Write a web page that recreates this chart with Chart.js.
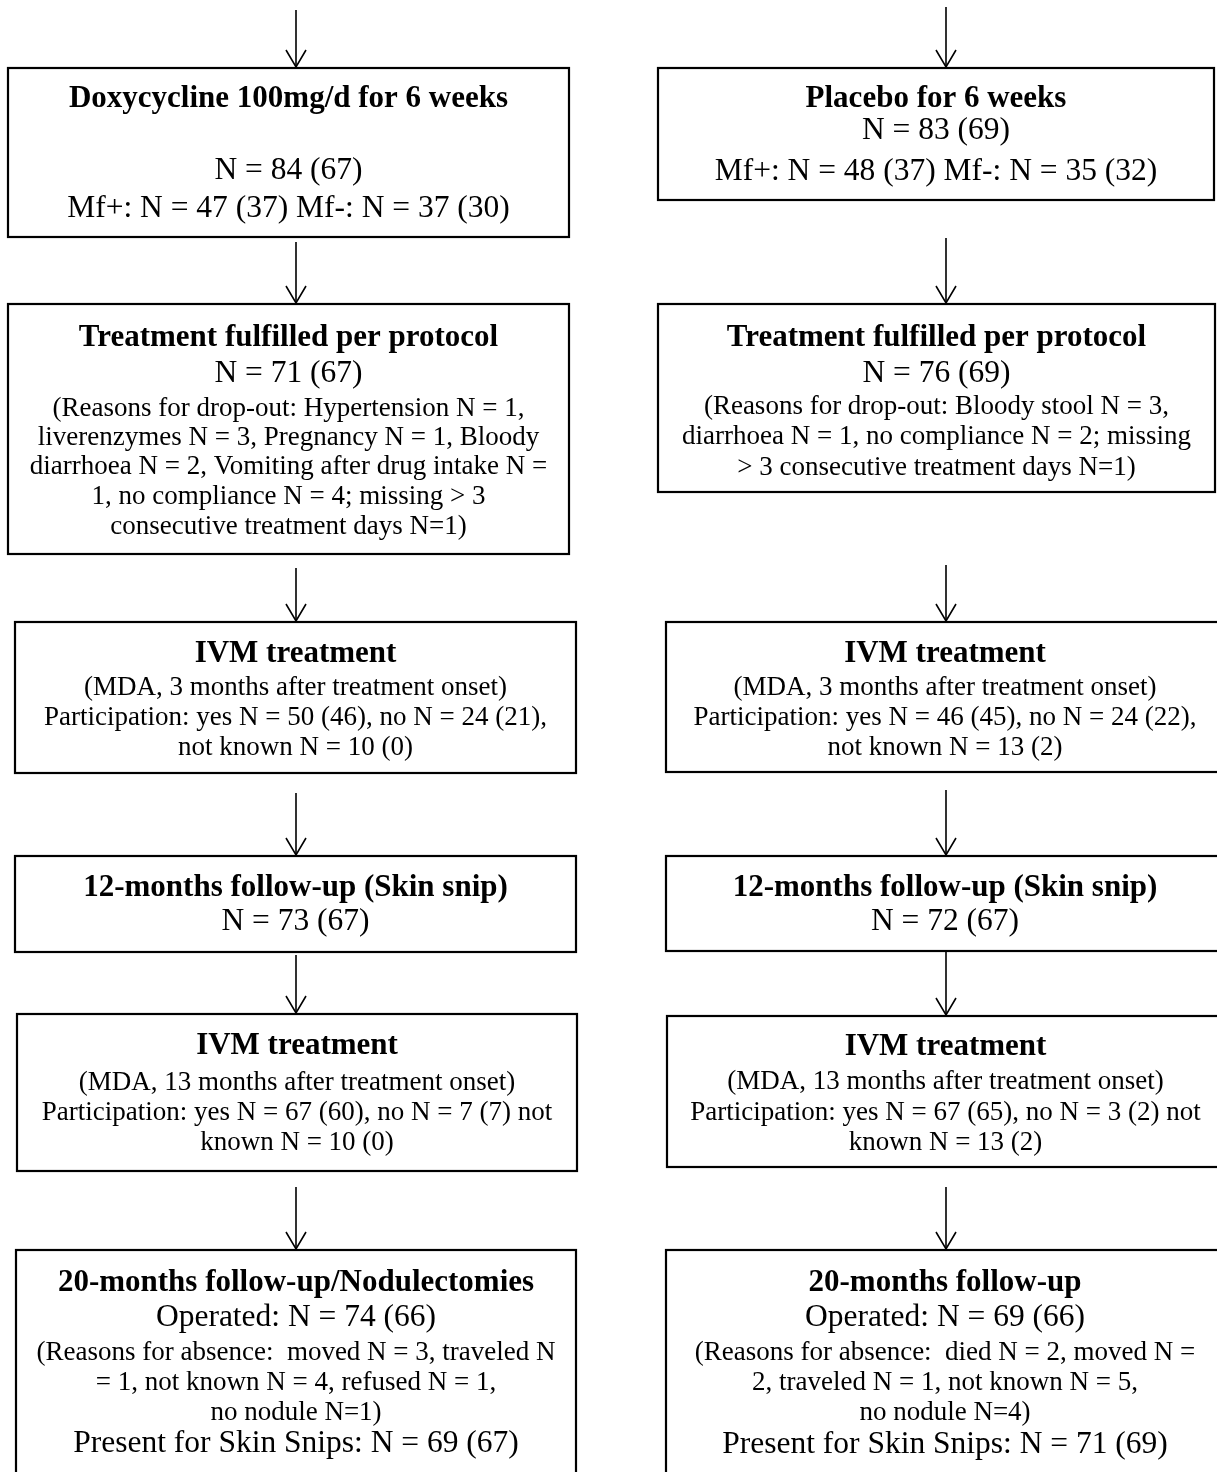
<!DOCTYPE html>
<html>
<head>
<meta charset="utf-8">
<script src="https://cdn.jsdelivr.net/npm/chart.js@4.4.1/dist/chart.umd.min.js"></script>
<style>
  html, body { margin: 0; padding: 0; background: #fff; }
  #wrap { width: 1217px; height: 1472px; }
</style>
</head>
<body>
<div id="wrap"><canvas id="flow" width="1217" height="1472"></canvas></div>
<script>
// 2つの群（ドキシサイクリン / プラセボ）
const arms = ['Doxycycline', 'Placebo'];

// 各ボックスの文言（上から順に）
const doxyText = [
  ['Doxycycline 100mg/d for 6 weeks', 'N = 84 (67)', 'Mf+: N = 47 (37) Mf-: N = 37 (30)'],
  ['Treatment fulfilled per protocol', 'N = 71 (67)',
   '(Reasons for drop-out: Hypertension N = 1,',
   'liverenzymes N = 3, Pregnancy N = 1, Bloody',
   'diarrhoea N = 2, Vomiting after drug intake N =',
   '1, no compliance N = 4; missing > 3',
   'consecutive treatment days N=1)'],
  ['IVM treatment', '(MDA, 3 months after treatment onset)',
   'Participation: yes N = 50 (46), no N = 24 (21),',
   'not known N = 10 (0)'],
  ['12-months follow-up (Skin snip)', 'N = 73 (67)'],
  ['IVM treatment', '(MDA, 13 months after treatment onset)',
   'Participation: yes N = 67 (60), no N = 7 (7) not',
   'known N = 10 (0)'],
  ['20-months follow-up/Nodulectomies', 'Operated: N = 74 (66)',
   '(Reasons for absence:  moved N = 3, traveled N',
   '= 1, not known N = 4, refused N = 1,',
   'no nodule N=1)',
   'Present for Skin Snips: N = 69 (67)']
];

const placeboText = [
  ['Placebo for 6 weeks', 'N = 83 (69)', 'Mf+: N = 48 (37) Mf-: N = 35 (32)'],
  ['Treatment fulfilled per protocol', 'N = 76 (69)',
   '(Reasons for drop-out: Bloody stool N = 3,',
   'diarrhoea N = 1, no compliance N = 2; missing',
   '> 3 consecutive treatment days N=1)'],
  ['IVM treatment', '(MDA, 3 months after treatment onset)',
   'Participation: yes N = 46 (45), no N = 24 (22),',
   'not known N = 13 (2)'],
  ['12-months follow-up (Skin snip)', 'N = 72 (67)'],
  ['IVM treatment', '(MDA, 13 months after treatment onset)',
   'Participation: yes N = 67 (65), no N = 3 (2) not',
   'known N = 13 (2)'],
  ['20-months follow-up', 'Operated: N = 69 (66)',
   '(Reasons for absence:  died N = 2, moved N =',
   '2, traveled N = 1, not known N = 5,',
   'no nodule N=4)',
   'Present for Skin Snips: N = 71 (69)']
];

// ---- レイアウト（軸の座標系: x 0..1217, y 0..1472 下向き）----
const W = 1217, H = 1472;

const layoutDoxy = [
  { x0: 8,  x1: 569, y0: 68,   y1: 237,  ys: [98, 170, 208],                 kinds: ['b', 'm', 'm'] },
  { x0: 8,  x1: 569, y0: 304,  y1: 554,  ys: [337, 373, 408, 437, 466, 496, 526], kinds: ['b', 'm', 's', 's', 's', 's', 's'] },
  { x0: 15, x1: 576, y0: 622,  y1: 773,  ys: [653, 687, 717, 747],           kinds: ['b', 's', 's', 's'] },
  { x0: 15, x1: 576, y0: 856,  y1: 952,  ys: [887, 921],                     kinds: ['b', 'm'] },
  { x0: 17, x1: 577, y0: 1014, y1: 1171, ys: [1045, 1082, 1112, 1142],       kinds: ['b', 's', 's', 's'] },
  { x0: 16, x1: 576, y0: 1250, y1: 1495, ys: [1282, 1317, 1352, 1382, 1412, 1443], kinds: ['b', 'm', 's', 's', 's', 'm'] }
];

const layoutPlacebo = [
  { x0: 658, x1: 1214, y0: 68,   y1: 200,  ys: [98, 130, 171],               kinds: ['b', 'm', 'm'] },
  { x0: 658, x1: 1215, y0: 304,  y1: 492,  ys: [337, 373, 406, 436, 467],    kinds: ['b', 'm', 's', 's', 's'] },
  { x0: 666, x1: 1224, y0: 622,  y1: 772,  ys: [653, 687, 717, 747],         kinds: ['b', 's', 's', 's'] },
  { x0: 666, x1: 1224, y0: 856,  y1: 951,  ys: [887, 921],                   kinds: ['b', 'm'] },
  { x0: 667, x1: 1224, y0: 1016, y1: 1167, ys: [1046, 1081, 1112, 1142],     kinds: ['b', 's', 's', 's'] },
  { x0: 666, x1: 1224, y0: 1250, y1: 1495, ys: [1282, 1317, 1352, 1382, 1412, 1444], kinds: ['b', 'm', 's', 's', 's', 'm'] }
];

// 矢印: x位置と、各矢印の始点（終点は次のボックス上端）
const arrowX = [296, 946];
const arrowStart = [
  [10, 242, 568, 793, 955, 1187],
  [7, 238, 565, 790, 951, 1187]
];

const fonts = {
  b: 'bold 31px "Liberation Serif", "Times New Roman", serif',
  m: '31.5px "Liberation Serif", "Times New Roman", serif',
  s: '27px "Liberation Serif", "Times New Roman", serif'
};

const columns = [
  { text: doxyText, layout: layoutDoxy },
  { text: placeboText, layout: layoutPlacebo }
];

// 矢印の軸部分は line データセットとして描く
function arrowDatasets(){
  const out = [];
  columns.forEach((col, c) => {
    col.layout.forEach((box, i) => {
      out.push({
        type: 'line',
        label: arms[c] + ' ' + i,
        data: [{ x: arrowX[c], y: arrowStart[c][i] }, { x: arrowX[c], y: box.y0 }],
        borderColor: '#000',
        borderWidth: 1.6,
        pointRadius: 0,
        fill: false
      });
    });
  });
  return out;
}

// ボックス・矢じり・文字を描くプラグイン
const flowPlugin = {
  id: 'flowPlugin',
  afterDatasetsDraw(chart) {
    const { ctx, scales } = chart;
    const px = v => scales.x.getPixelForValue(v);
    const py = v => scales.y.getPixelForValue(v);

    ctx.save();
    ctx.strokeStyle = '#000';
    ctx.fillStyle = '#000';

    // 矢じり（開いたV字）
    ctx.lineWidth = 1.6;
    columns.forEach((col, c) => {
      col.layout.forEach(box => {
        const x = px(arrowX[c]), y = py(box.y0);
        ctx.beginPath();
        ctx.moveTo(x - 10, y - 18);
        ctx.lineTo(x, y - 1);
        ctx.lineTo(x + 10, y - 18);
        ctx.stroke();
      });
    });

    // ボックス
    ctx.lineWidth = 2.2;
    columns.forEach(col => {
      col.layout.forEach(box => {
        const x0 = px(box.x0), x1 = px(box.x1), y0 = py(box.y0), y1 = py(box.y1);
        ctx.strokeRect(x0, y0, x1 - x0, y1 - y0);
      });
    });

    // 文字
    ctx.textAlign = 'center';
    ctx.textBaseline = 'middle';
    columns.forEach(col => {
      col.layout.forEach((box, i) => {
        const cx = px((box.x0 + box.x1) / 2);
        col.text[i].forEach((line, j) => {
          ctx.font = fonts[box.kinds[j]];
          ctx.fillText(line, cx, py(box.ys[j]) + 1);
        });
      });
    });
    ctx.restore();
  }
};

new Chart(document.getElementById('flow'), {
  type: 'scatter',
  data: { datasets: arrowDatasets() },
  options: {
    responsive: false,
    animation: false,
    events: [],
    layout: { padding: 0 },
    plugins: { legend: { display: false }, tooltip: { enabled: false } },
    scales: {
      x: { type: 'linear', min: 0, max: W, display: false },
      y: { type: 'linear', min: 0, max: H, reverse: true, display: false }
    }
  },
  plugins: [flowPlugin]
});
</script>
</body>
</html>
